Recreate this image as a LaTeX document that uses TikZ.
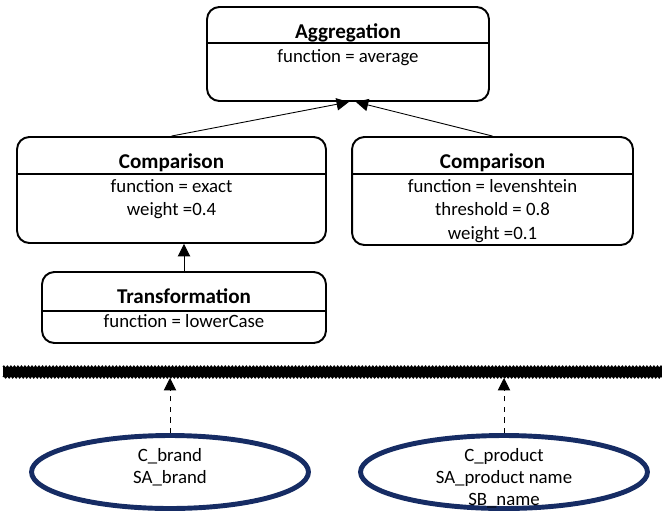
\documentclass[tikz,border=0pt]{standalone}
\usepackage{fontspec}
\setmainfont{Carlito}
\usetikzlibrary{shapes.geometric,arrows.meta,decorations.pathmorphing}

\definecolor{navy}{RGB}{22,44,100}

\tikzset{
  box/.style={draw, rounded corners=7pt, line width=1.1pt, inner sep=0pt},
  txt/.style={anchor=base, font=\fontsize{10.7}{13}\selectfont},
  ttl/.style={anchor=base, font=\fontsize{12}{14}\selectfont\bfseries},
  src/.style={draw=navy, ellipse, line width=2.8pt, inner sep=0pt},
  arr/.style={-{Triangle[length=7pt,width=7pt]}, line width=0.5pt},
}

\begin{document}
\begin{tikzpicture}[x=0.02cm, y=-0.02cm]

    \useasboundingbox (0,0) rectangle (662,521);

    % boxes
    \node[box, minimum width=5.64cm, minimum height=1.88cm] (agg) at (348,54) {};
    \node[box, minimum width=6.18cm, minimum height=2.12cm] (cmpL) at (171.5,190) {};
    \node[box, minimum width=5.62cm, minimum height=2.16cm] (cmpR) at (492.5,191) {};
    \node[box, minimum width=5.68cm, minimum height=1.42cm] (trans) at (184,307.5) {};

    \draw[line width=0.6pt] (agg.west |- 0,43) -- (agg.east |- 0,43);
    \draw[line width=0.6pt] (cmpL.west |- 0,174) -- (cmpL.east |- 0,174);
    \draw[line width=0.6pt] (cmpR.west |- 0,174) -- (cmpR.east |- 0,174);
    \draw[line width=0.6pt] (trans.west |- 0,311) -- (trans.east |- 0,311);

    \node[ttl] (aggT) at (348,38) {Aggregation};
    \node[txt] (aggF) at (348,62) {function = average};

    \node[ttl] (cmpLT) at (171.5,168) {Comparison};
    \node[txt] (cmpLF) at (171.5,192) {function = exact};
    \node[txt] (cmpLW) at (171.5,215) {weight =0.4};

    \node[ttl] (cmpRT) at (492.5,168) {Comparison};
    \node[txt] (cmpRF) at (492.5,192) {function = levenshtein};
    \node[txt] (cmpRH) at (492.5,215) {threshold = 0.8};
    \node[txt] (cmpRW) at (492.5,239) {weight =0.1};

    \node[ttl] (transT) at (184,303) {Transformation};
    \node[txt] (transF) at (184,327) {function = lowerCase};

    \draw[arr] (cmpL.north) -- ([xshift=0.5pt]agg.south);
    \draw[arr] (cmpR.north) -- ([xshift=4.5pt]agg.south);
    \draw[arr] (trans.north) -- (trans.north |- cmpL.south);

    % separator
    \fill (3,367) rectangle (662,377);
    \draw[line width=0.6pt, decorate, decoration={zigzag, segment length=2pt, amplitude=0.6pt}] (3,367) -- (662,367);
    \draw[line width=0.6pt, decorate, decoration={zigzag, segment length=2pt, amplitude=0.6pt}] (3,377) -- (662,377);

    % sources
    \node[src, minimum width=5.54cm, minimum height=1.46cm] (srcL) at (170,472) {};
    \node[src, minimum width=5.74cm, minimum height=1.46cm] (srcR) at (504,472) {};

    \node[txt] (srcLC) at (170,461) {C\_brand};
    \node[txt] (srcLA) at (170,483) {SA\_brand};

    \node[txt] (srcRC) at (504,461) {C\_product};
    \node[txt] (srcRA) at (504,483) {SA\_product name};
    \node[txt] (srcRB) at (504,505) {SB\_name};

    \coordinate (sepL) at (170,378);
    \coordinate (sepR) at (504,378);

    \draw[arr, dashed] (srcL.north) -- (sepL);
    \draw[arr, dashed] (srcR.north) -- (sepR);

\end{tikzpicture}
\end{document}
